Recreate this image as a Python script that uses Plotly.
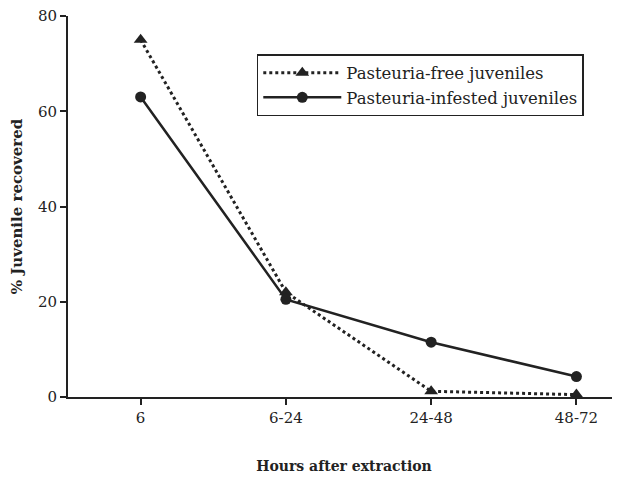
import plotly.graph_objects as go

categories = ["6", "6-24", "24-48", "48-72"]
free_vals = [75, 22, 1.2, 0.5]
infested_vals = [63, 20.5, 11.5, 4.3]
y_ticks = [0, 20, 40, 60, 80]

font_family = "DejaVu Serif"

fig = go.Figure()
fig.add_trace(go.Scatter(
    x=list(range(len(categories))), y=free_vals, mode="lines+markers",
    name="Pasteuria-free juveniles",
    line=dict(color="#222222", width=3, dash="dot"),
    marker=dict(symbol="triangle-up", size=12, color="#222222"),
))
fig.add_trace(go.Scatter(
    x=list(range(len(categories))), y=infested_vals, mode="lines+markers",
    name="Pasteuria-infested juveniles",
    line=dict(color="#222222", width=2.5),
    marker=dict(symbol="circle", size=11, color="#222222"),
))

# page body has an 8px default margin, so the figure is sized to fill the rest
fig.update_layout(
    width=612, height=470,
    margin=dict(l=60, r=0, t=8, b=81, autoexpand=False),
    paper_bgcolor="white", plot_bgcolor="white",
    font=dict(family=font_family, color="#222222", size=14),
    showlegend=True,
    legend=dict(
        x=0.342, y=0.9, xanchor="left", yanchor="top",
        bordercolor="#222222", borderwidth=1.5,
        font=dict(family=font_family, size=16.5, color="#222222"),
        bgcolor="white", itemwidth=78,
    ),
    xaxis=dict(
        range=[-0.5, 3.3], tickmode="array",
        tickvals=list(range(len(categories))), ticktext=categories,
        showline=True, linecolor="#222222", linewidth=2,
        ticks="outside", ticklen=6, tickwidth=2, tickcolor="#222222",
        showgrid=False, zeroline=False, automargin=False,
        title=dict(text="<b>Hours after extraction</b>", font=dict(size=14, family=font_family), standoff=35),
        tickfont=dict(size=15, family=font_family),
    ),
    yaxis=dict(
        range=[0, 80], tickvals=y_ticks,
        showline=True, linecolor="#222222", linewidth=2,
        ticks="outside", ticklen=6, tickwidth=2, tickcolor="#222222",
        showgrid=False, zeroline=False, automargin=False,
        ticklabeloverflow="allow",
        title=dict(text="<b>% Juvenile recovered</b>", font=dict(size=15, family=font_family), standoff=12),
        tickfont=dict(size=15, family=font_family),
    ),
)

fig.write_html("out.html")
